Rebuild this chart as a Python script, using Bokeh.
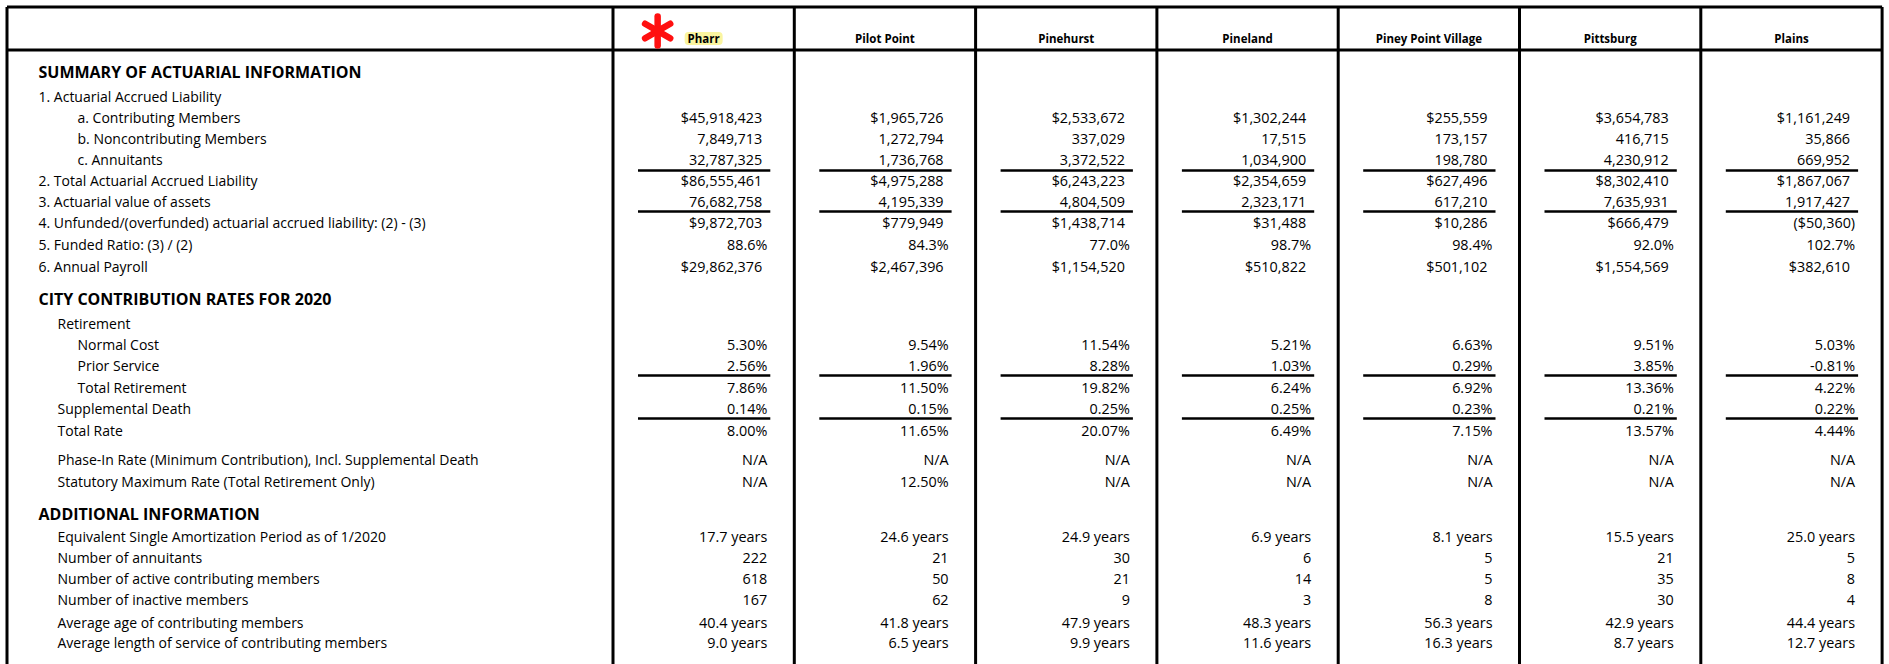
from bokeh.plotting import figure
from bokeh.models import Range1d
from bokeh.embed import file_html
from bokeh.resources import INLINE
from bokeh.core.properties import value

# ---------------- data ----------------
cities = ["Pharr", "Pilot Point", "Pinehurst", "Pineland", "Piney Point Village", "Pittsburg", "Plains"]

aal_contributing = ["$45,918,423", "$1,965,726", "$2,533,672", "$1,302,244", "$255,559", "$3,654,783", "$1,161,249"]
aal_noncontributing = ["7,849,713", "1,272,794", "337,029", "17,515", "173,157", "416,715", "35,866"]
aal_annuitants = ["32,787,325", "1,736,768", "3,372,522", "1,034,900", "198,780", "4,230,912", "669,952"]
total_aal = ["$86,555,461", "$4,975,288", "$6,243,223", "$2,354,659", "$627,496", "$8,302,410", "$1,867,067"]
asset_value = ["76,682,758", "4,195,339", "4,804,509", "2,323,171", "617,210", "7,635,931", "1,917,427"]
unfunded_aal = ["$9,872,703", "$779,949", "$1,438,714", "$31,488", "$10,286", "$666,479", "($50,360)"]
funded_ratio = ["88.6%", "84.3%", "77.0%", "98.7%", "98.4%", "92.0%", "102.7%"]
annual_payroll = ["$29,862,376", "$2,467,396", "$1,154,520", "$510,822", "$501,102", "$1,554,569", "$382,610"]

normal_cost = ["5.30%", "9.54%", "11.54%", "5.21%", "6.63%", "9.51%", "5.03%"]
prior_service = ["2.56%", "1.96%", "8.28%", "1.03%", "0.29%", "3.85%", "-0.81%"]
total_retirement = ["7.86%", "11.50%", "19.82%", "6.24%", "6.92%", "13.36%", "4.22%"]
supplemental_death = ["0.14%", "0.15%", "0.25%", "0.25%", "0.23%", "0.21%", "0.22%"]
total_rate = ["8.00%", "11.65%", "20.07%", "6.49%", "7.15%", "13.57%", "4.44%"]
phase_in_rate = ["N/A", "N/A", "N/A", "N/A", "N/A", "N/A", "N/A"]
statutory_max_rate = ["N/A", "12.50%", "N/A", "N/A", "N/A", "N/A", "N/A"]

amortization_period = ["17.7 years", "24.6 years", "24.9 years", "6.9 years", "8.1 years", "15.5 years", "25.0 years"]
num_annuitants = ["222", "21", "30", "6", "5", "21", "5"]
num_active = ["618", "50", "21", "14", "5", "35", "8"]
num_inactive = ["167", "62", "9", "3", "8", "30", "4"]
avg_age = ["40.4 years", "41.8 years", "47.9 years", "48.3 years", "56.3 years", "42.9 years", "44.4 years"]
avg_service = ["9.0 years", "6.5 years", "9.9 years", "11.6 years", "16.3 years", "8.7 years", "12.7 years"]

# rows: (indent kind, label, values)
rows = [
    ("section", "SUMMARY OF ACTUARIAL INFORMATION", None),
    ("l0", "1. Actuarial Accrued Liability", None),
    ("l2", "a. Contributing Members", aal_contributing),
    ("l2", "b. Noncontributing Members", aal_noncontributing),
    ("l2", "c. Annuitants", aal_annuitants),
    ("l0", "2. Total Actuarial Accrued Liability", total_aal),
    ("l0", "3. Actuarial value of assets", asset_value),
    ("l0", "4. Unfunded/(overfunded) actuarial accrued liability: (2) - (3)", unfunded_aal),
    ("l0", "5. Funded Ratio: (3) / (2)", funded_ratio),
    ("l0", "6. Annual  Payroll", annual_payroll),
    ("section", "CITY CONTRIBUTION RATES FOR 2020", None),
    ("l1", "Retirement", None),
    ("l2", "Normal Cost", normal_cost),
    ("l2", "Prior Service", prior_service),
    ("l2", "Total Retirement", total_retirement),
    ("l1", "Supplemental Death", supplemental_death),
    ("l1", "Total Rate", total_rate),
    ("l1", "Phase-In Rate (Minimum Contribution), Incl. Supplemental Death", phase_in_rate),
    ("l1", "Statutory Maximum Rate (Total Retirement Only)", statutory_max_rate),
    ("section", "ADDITIONAL INFORMATION", None),
    ("l1", "Equivalent Single Amortization Period as of 1/2020", amortization_period),
    ("l1", "Number of annuitants", num_annuitants),
    ("l1", "Number of active contributing members", num_active),
    ("l1", "Number of inactive members", num_inactive),
    ("l1", "Average age of contributing members", avg_age),
    ("l1", "Average length of service of contributing members", avg_service),
]
money_rows = {2, 3, 4, 5, 6, 7, 9}

# ---------------- layout (page pixels) ----------------
W, H = 1889, 664
ROW_Y = [71, 96, 117, 138, 159, 180, 201, 222, 244, 266,
         298, 323, 344, 365, 387, 408, 430, 459, 481,
         513, 536, 557, 578, 599, 622, 642]
LINE_Y = [170, 211, 375, 418]
LEVEL_X = {"section": 38, "l0": 38, "l1": 57, "l2": 77}
COL0 = 612.5
COLW = 181.3
dividers = [COL0 + COLW * k for k in range(len(cities) + 1)]
LEFT = 6.5
TOP = 6.5
HEAD_LINE = 49.5

FONT = value("Open Sans")
LABEL_SIZE = "14px"
VALUE_SIZE = "14.4px"

p = figure(width=W, height=H, x_range=Range1d(0, W), y_range=Range1d(H, 0),
           output_backend="svg", toolbar_location=None, min_border=0,
           x_axis_location=None, y_axis_location=None)
p.grid.visible = False
p.outline_line_color = None
p.background_fill_color = "white"
p.border_fill_color = "white"

# borders
vx = [LEFT] + dividers
p.segment(x0=vx, y0=[TOP] * len(vx), x1=vx, y1=[H + 10] * len(vx),
          line_color="black", line_width=3)
p.segment(x0=[LEFT, LEFT], y0=[TOP, HEAD_LINE], x1=[dividers[-1], dividers[-1]],
          y1=[TOP, HEAD_LINE], line_color="black", line_width=3)

# header: highlight + asterisk + city names
centers = [(dividers[i] + dividers[i + 1]) / 2 for i in range(len(cities))]
p.rect(x=[centers[0]], y=[38], width=38, height=13, fill_color="#faf5a0",
       line_color=None, border_radius=4)
p.scatter(x=[centers[0] - 46] * 3, y=[30.5] * 3, marker="dash", size=29, angle=[90, 30, 150],
          angle_units="deg", line_color="#ff1010", line_width=6.5, line_cap="round")
p.text(x=centers, y=[38] * len(cities), text=cities,
       text_align="center", text_baseline="middle", text_font=FONT,
       text_font_style="bold", text_font_size="11.5px", text_color="black")

# labels
for kind in ["section", "l0", "l1", "l2"]:
    idx = [i for i, r in enumerate(rows) if r[0] == kind]
    p.text(x=[LEVEL_X[kind]] * len(idx), y=[ROW_Y[i] for i in idx],
           text=[rows[i][1] for i in idx], text_align="left", text_baseline="middle",
           text_font=FONT, text_font_size="16px" if kind == "section" else LABEL_SIZE,
           text_font_style="bold" if kind == "section" else "normal", text_color="black")

# values
tx, ty, tt = [], [], []
for i, (kind, label, vals) in enumerate(rows):
    if vals is None:
        continue
    for c, v in enumerate(vals):
        pad = 32 if (i in money_rows and not v.startswith("(")) else 27
        tx.append(dividers[c + 1] - pad)
        ty.append(ROW_Y[i])
        tt.append(v)
p.text(x=tx, y=ty, text=tt, text_align="right", text_baseline="middle",
       text_font=FONT, text_font_size=VALUE_SIZE, text_color="black")

# underlines
ux0, ux1, uy = [], [], []
for ly in LINE_Y:
    for c in range(len(cities)):
        ux0.append(dividers[c] + 25)
        ux1.append(dividers[c + 1] - 24)
        uy.append(ly)
p.segment(x0=ux0, y0=uy, x1=ux1, y1=uy, line_color="black", line_width=2.5)

open("out.html", "w").write(file_html(p, INLINE))
